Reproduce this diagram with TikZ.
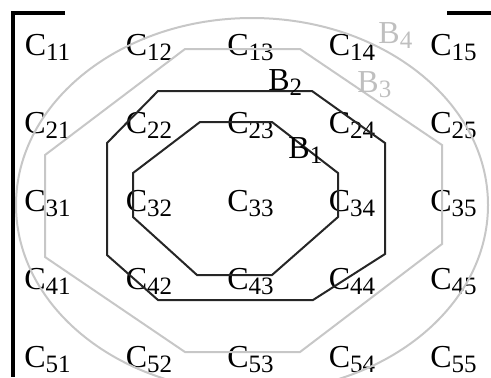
\documentclass[tikz,border=0pt]{standalone}
\usepackage{fontspec}
\setmainfont{Liberation Serif}
\usepackage{xcolor}
\usepackage{tikz}
\usetikzlibrary{positioning, calc}

\newcommand{\idx}[1]{\raisebox{-2.6pt}{\fontsize{12.5}{14}\selectfont #1}}

\begin{document}
\begin{tikzpicture}[x=0.5pt, y=-0.5pt,
        entry/.style={anchor=base, inner sep=0pt, font=\fontsize{16}{19}\selectfont},
        inner/.style={line width=1pt, black!85},
        outer/.style={line width=1pt, black!22},
        lab/.style={inner sep=0pt, font=\fontsize{16}{19}\selectfont}]
            \useasboundingbox (0,0) rectangle (491,377);

            % 矩阵括号
            \draw[line width=1.8pt] (65,13) -- (13,13) -- (13,377);
            \draw[line width=1.8pt] (447,13) -- (491,13);

            % 矩阵元素
            \foreach \i in {1,...,5}
                \foreach \j in {1,...,5}
                    \node[entry] (c\i\j) at ({47.5+101.5*(\j-1)}, {55+78*(\i-1)}) {C\idx{\i\j}};

            % 外层边界
            \draw[outer] (252,205) ellipse (236 and 187);
            \draw[outer] (185,49) -- (300,49) -- (442,145) -- (442,244)
                -- (300,352) -- (185,352) -- (45,257) -- (45,155) -- cycle;

            % 内层边界
            \draw[inner] (158,91) -- (312,91) -- (385,143) -- (385,254)
                -- (313,300) -- (158,300) -- (107,255) -- (107,143) -- cycle;
            \draw[inner] (200,122) -- (272,122) -- (338,173) -- (338,217)
                -- (272,275) -- (197,275) -- (133,217) -- (133,173) -- cycle;

            % 标签
            \node[lab, anchor=base west] (b1) at (288,158) {B\idx{1}};
            \node[lab, anchor=base west] (b2) at (268,90) {B\idx{2}};
            \node[lab, anchor=base west, black!25] (b3) at (357,92) {B\idx{3}};
            \node[lab, anchor=base west, black!25] (b4) at (378,43) {B\idx{4}};
        \end{tikzpicture}
\end{document}
